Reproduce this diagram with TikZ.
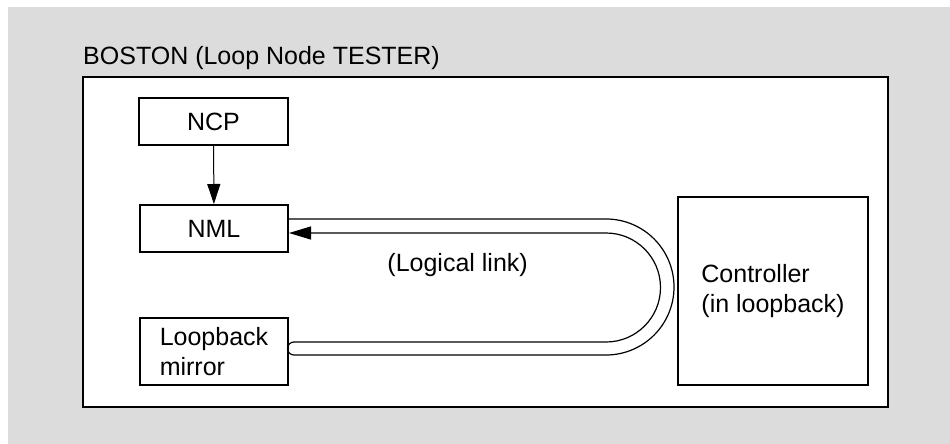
\documentclass[tikz,border=0pt]{standalone}
\usepackage{fontspec}
\setmainfont{Liberation Sans}
\usetikzlibrary{arrows.meta}

\begin{document}
\begin{tikzpicture}[x=1pt,y=-1pt]
        %colores
        \definecolor{fondo}{RGB}{220,220,220}
        \tikzset{
            texto/.style={font=\fontsize{25}{30}\selectfont},
            caja/.style={texto,draw,line width=2pt,fill=white,inner sep=0pt,align=left},
            flecha/.style={line width=1pt,-{Triangle[length=20pt,width=13pt]}},
            tubo/.style={line width=1.2pt,-{Triangle[length=22pt,width=13pt]}}
        }

        % Fondo y marco
        \useasboundingbox (0,0) rectangle (950,444);
        \fill[fondo] (8,7) rectangle (950,444);
        \draw[line width=2pt,fill=white] (83,77) rectangle (888,407);
        \node[texto,anchor=base west,inner sep=0pt] (titulo) at (83,64) {BOSTON (Loop Node TESTER)};

        % Cajas
        \node[caja,minimum width=149pt,minimum height=47pt] (NCP) at (213.5,121.5) {NCP};
        \node[caja,minimum width=148pt,minimum height=47pt] (NML) at (214,228.5) {NML};
        \node[caja,minimum width=148pt,minimum height=67pt] (espejo) at (214,351.5) {Loopback\\mirror};
        \node[caja,minimum width=190pt,minimum height=188pt] (control) at (773,291) {Controller\\(in loopback)};

        % Flecha NCP a NML
        \draw[flecha] (NCP) -- (NML);

        % Enlace logico (tubo doble)
        \coordinate (tapa) at (294,348.5);
        \coordinate (giro) at (606,287);
        \draw[tubo] (NML.east |- 0,219) -- (giro |- 0,219)
            arc[start angle=-90,end angle=90,radius=68] -- (tapa |- 0,355)
            arc[start angle=90,end angle=270,radius=6.5] -- (giro |- 0,342)
            arc[start angle=90,end angle=-90,radius=54.5] -- (NML.east |- 0,233);
        \node[texto,anchor=base east,inner sep=0pt] (enlace) at (528,271) {(Logical link)};
    \end{tikzpicture}
\end{document}
